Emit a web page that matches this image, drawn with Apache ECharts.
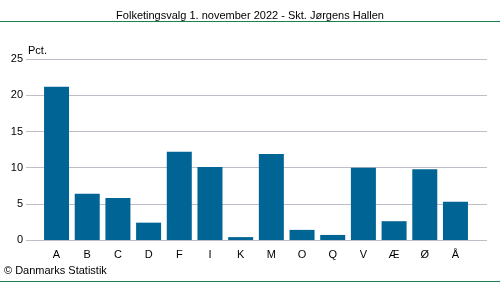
<!DOCTYPE html>
<html>
<head>
<meta charset="utf-8">
<script src="https://cdn.jsdelivr.net/npm/echarts@6/dist/echarts.min.js"></script>
<style>
html,body{margin:0;padding:0;background:#fff;}
#c{width:500px;height:282px;}
</style>
</head>
<body>
<div id="c"></div>
<script>
const categories = ['A','B','C','D','F','I','K','M','O','Q','V','Æ','Ø','Å'];
const values = [21.2, 6.4, 5.8, 2.4, 12.2, 10.1, 0.4, 11.9, 1.4, 0.7, 10.0, 2.6, 9.8, 5.3];
const yTicks = [0, 5, 10, 15, 20, 25];
const titleText = 'Folketingsvalg 1. november 2022 - Skt. Jørgens Hallen';
const unitText = 'Pct.';
const sourceText = '© Danmarks Statistik';

const FONT = '"Liberation Sans", Arial, sans-serif';
const chart = echarts.init(document.getElementById('c'), null, {renderer: 'canvas'});
const gTop = 59.33, gBottom = 42;
chart.setOption({
  animation: false,
  backgroundColor: '#ffffff',
  title: {
    text: titleText,
    left: 'center',
    top: 5,
    textStyle: {fontFamily: FONT, fontSize: 11, fontWeight: 'normal', color: '#000'}
  },
  graphic: [
    {type: 'line', shape: {x1: 0, y1: 21.5, x2: 500, y2: 21.5}, style: {stroke: '#17824A', lineWidth: 1}},
    {type: 'line', shape: {x1: 0, y1: 281.5, x2: 500, y2: 281.5}, style: {stroke: '#17824A', lineWidth: 1}},
    {type: 'text', left: 28, top: 45, style: {text: unitText, font: '11px ' + FONT, fill: '#000'}},
    {type: 'text', left: 4, top: 265, style: {text: sourceText, font: '11px ' + FONT, fill: '#000'}}
  ],
  grid: [
    {left: 26, right: 13, top: gTop, bottom: gBottom},
    {left: 41.2, right: 29.2, top: gTop, bottom: gBottom}
  ],
  xAxis: [
    {gridIndex: 0, type: 'value', show: false, min: 0, max: 1},
    {gridIndex: 1, type: 'category', data: categories,
     axisLine: {show: false}, axisTick: {show: false},
     axisLabel: {margin: 9, fontFamily: FONT, fontSize: 11, color: '#000'}}
  ],
  yAxis: [
    {gridIndex: 0, type: 'value', min: yTicks[0], max: yTicks[yTicks.length-1], interval: 5,
     axisLine: {show: false}, axisTick: {show: false},
     axisLabel: {margin: 3, fontFamily: FONT, fontSize: 11, color: '#000'},
     splitLine: {lineStyle: {color: '#BEBEC8', width: 1}}},
    {gridIndex: 1, type: 'value', min: yTicks[0], max: yTicks[yTicks.length-1], show: false,
     splitLine: {show: false}}
  ],
  series: [{
    type: 'bar',
    xAxisIndex: 1, yAxisIndex: 1,
    data: values,
    barWidth: 25,
    itemStyle: {color: '#006494'}
  }]
});
</script>
</body>
</html>
